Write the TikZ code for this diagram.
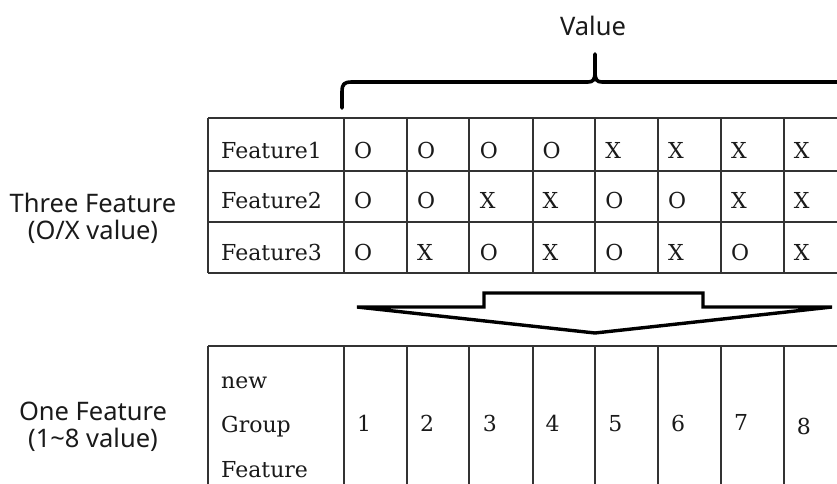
\documentclass[tikz,border=0pt]{standalone}
\usepackage{fontspec}
\newfontfamily\labelfont{Noto Sans}
\newfontfamily\cellfont{DejaVu Serif}
\definecolor{ink}{HTML}{1A1A1A}
\definecolor{gridc}{HTML}{333333}
\begin{document}
\begin{tikzpicture}[x=1pt,y=-1pt,
  lab/.style={font=\labelfont\fontsize{25.5}{27}\selectfont, text=ink, align=center, inner sep=0pt},
  cell/.style={font=\cellfont\fontsize{22}{24}\selectfont, text=ink, anchor=base west, inner sep=0pt},
  gridline/.style={draw=gridc, line width=1.3pt},
  thick outline/.style={draw=black, line width=3.4pt, line join=miter},
]
\useasboundingbox (0,0) rectangle (837,484);
\clip (0,0) rectangle (837,484);
\fill[white] (0,0) rectangle (837,484);

% heading and brace
\node[lab] (value) at (593,26) {Value};
\coordinate (bl) at (342,108);
\coordinate (bt) at (595,54);
\draw[line width=3.6pt, line cap=round, line join=round]
  (bl) -- (342,92) .. controls (342,84) and (344,82) .. (352,82) -- (588,82)
  .. controls (593,82) and (595,80) .. (595,72) -- (bt);
\draw[line width=3.6pt, line cap=round, line join=round]
  (595,72) .. controls (595,80) and (597,82) .. (602,82) -- (845,82);

% upper table
\draw[gridline] (208,118) -- (845,118);
\draw[gridline] (208,171) -- (845,171);
\draw[gridline] (208,222) -- (845,222);
\draw[gridline] (208,273) -- (845,273);
\foreach \x in {208,344,407,469,533,595,658,721,784}
  \draw[gridline] (\x,118) -- (\x,273);

\node[cell] (f1) at (221,158) {Feature1};
\node[cell] (f2) at (221,208) {Feature2};
\node[cell] (f3) at (221,260) {Feature3};
\foreach \v [count=\i] in {O,O,O,O,X,X,X,X}
  \node[cell] (a\i) at ({344+62.8*(\i-1)+10},158) {\v};
\foreach \v [count=\i] in {O,O,X,X,O,O,X,X}
  \node[cell] (b\i) at ({344+62.8*(\i-1)+10},208) {\v};
\foreach \v [count=\i] in {O,X,O,X,O,X,O,X}
  \node[cell] (c\i) at ({344+62.8*(\i-1)+10},260) {\v};

\node[lab] (three) at (93,218) {Three Feature\\(O/X value)};

% block arrow
\draw[thick outline] (357,307) -- (484,307) -- (484,293) -- (703,293)
  -- (703,307) -- (832,307) -- (595,333) -- cycle;

% lower table
\draw[gridline] (208,346) -- (845,346);
\foreach \x in {208,344,407,469,533,595,658,721,784}
  \draw[gridline] (\x,346) -- (\x,490);

\node[cell] (n1) at (221,388) {new};
\node[cell] (n2) at (221,432) {Group};
\node[cell] (n3) at (221,477) {Feature};
\foreach \v/\dy [count=\i] in {1/0,2/0,3/0,4/0,5/0,6/0,7/-1,8/3}
  \node[cell] (d\i) at ({344+62.8*(\i-1)+13},431+\dy) {\v};

\node[lab] (one) at (93,427) {One Feature\\(1\textasciitilde 8 value)};
\end{tikzpicture}
\end{document}
